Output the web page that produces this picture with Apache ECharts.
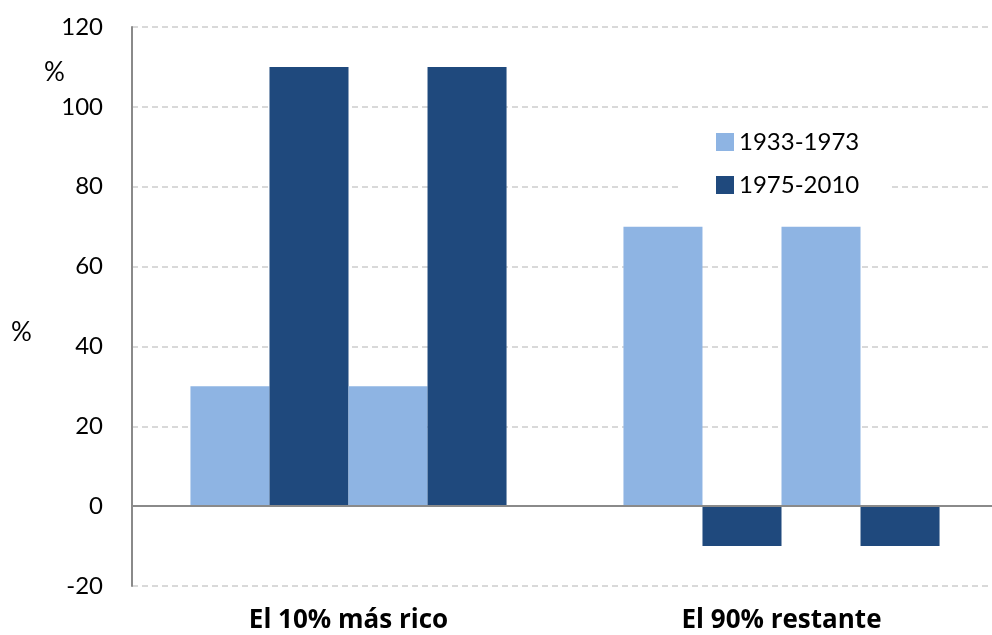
<!DOCTYPE html>
<html>
<head>
<meta charset="utf-8">
<script src="https://cdn.jsdelivr.net/npm/echarts@6/dist/echarts.min.js"></script>
<style>
  html, body { margin: 0; padding: 0; background: #fff; overflow: hidden; }
  #chart { width: 998px; height: 635px; }
</style>
</head>
<body>
<div id="chart"></div>
<script>
var categories = ['El 10% más rico', 'El 90% restante'];
var periodoA1 = [30, 70];
var periodoB1 = [110, -10];
var periodoA2 = [30, 70];
var periodoB2 = [110, -10];
var yTicks = [-20, 0, 20, 40, 60, 80, 100, 120];

var LIGHT = '#8EB4E3', DARK = '#1F497D';
var FONT = 'Lato, "Open Sans", sans-serif';

function barSeries(name, data, color) {
    return {
        name: name,
        type: 'bar',
        data: data,
        barGap: '0%',
        barCategoryGap: '27%',
        itemStyle: { color: color },
        silent: true
    };
}

var series = [
    barSeries('1933-1973', periodoA1, LIGHT),
    barSeries('1975-2010', periodoB1, DARK),
    barSeries('1933-1973', periodoA2, LIGHT),
    barSeries('1975-2010', periodoB2, DARK)
];
// linea del cero
series[0].markLine = {
    symbol: 'none',
    silent: true,
    label: { show: false },
    lineStyle: { color: '#8a8a8a', type: 'solid', width: 2 },
    data: [{ yAxis: 0 }]
};

// el grafico es un poco mas ancho que la ventana: el area de dibujo llega hasta el borde
var myChart = echarts.init(document.getElementById('chart'));
myChart.setOption({
    animation: false,
    textStyle: { fontFamily: FONT },
    grid: { left: 132, right: 0, top: 27, bottom: 49, containLabel: false },
    legend: {
        data: ['1933-1973', '1975-2010'],
        orient: 'vertical',
        left: 680,
        top: 122,
        padding: [8, 30, 8, 36],
        backgroundColor: '#fff',
        icon: 'rect',
        itemWidth: 18,
        itemHeight: 18,
        itemGap: 19,
        selectedMode: false,
        textStyle: { fontSize: 24, color: '#000', fontFamily: FONT }
    },
    xAxis: {
        type: 'category',
        data: categories,
        axisLine: { show: false, onZero: false },
        axisTick: { show: false },
        axisLabel: { margin: 22, fontSize: 26, fontWeight: 'bold', color: '#000',
                     fontFamily: '"Open Sans", Lato, sans-serif' }
    },
    yAxis: {
        type: 'value',
        min: yTicks[0],
        max: yTicks[yTicks.length - 1],
        interval: 20,
        axisLine: { show: true, lineStyle: { color: '#8a8a8a', width: 2 } },
        axisTick: { show: false },
        axisLabel: { margin: 29, fontSize: 24, color: '#000' },
        splitLine: { lineStyle: { color: '#d9d9d9', type: [6, 4], width: 2 } }
    },
    graphic: [
        { type: 'text', left: 44, top: 60, silent: true,
          style: { text: '%', fontSize: 26, fill: '#000', fontFamily: FONT } },
        { type: 'text', left: 11, top: 320, silent: true,
          style: { text: '%', fontSize: 26, fill: '#000', fontFamily: FONT } }
    ],
    series: series
});
</script>
</body>
</html>
